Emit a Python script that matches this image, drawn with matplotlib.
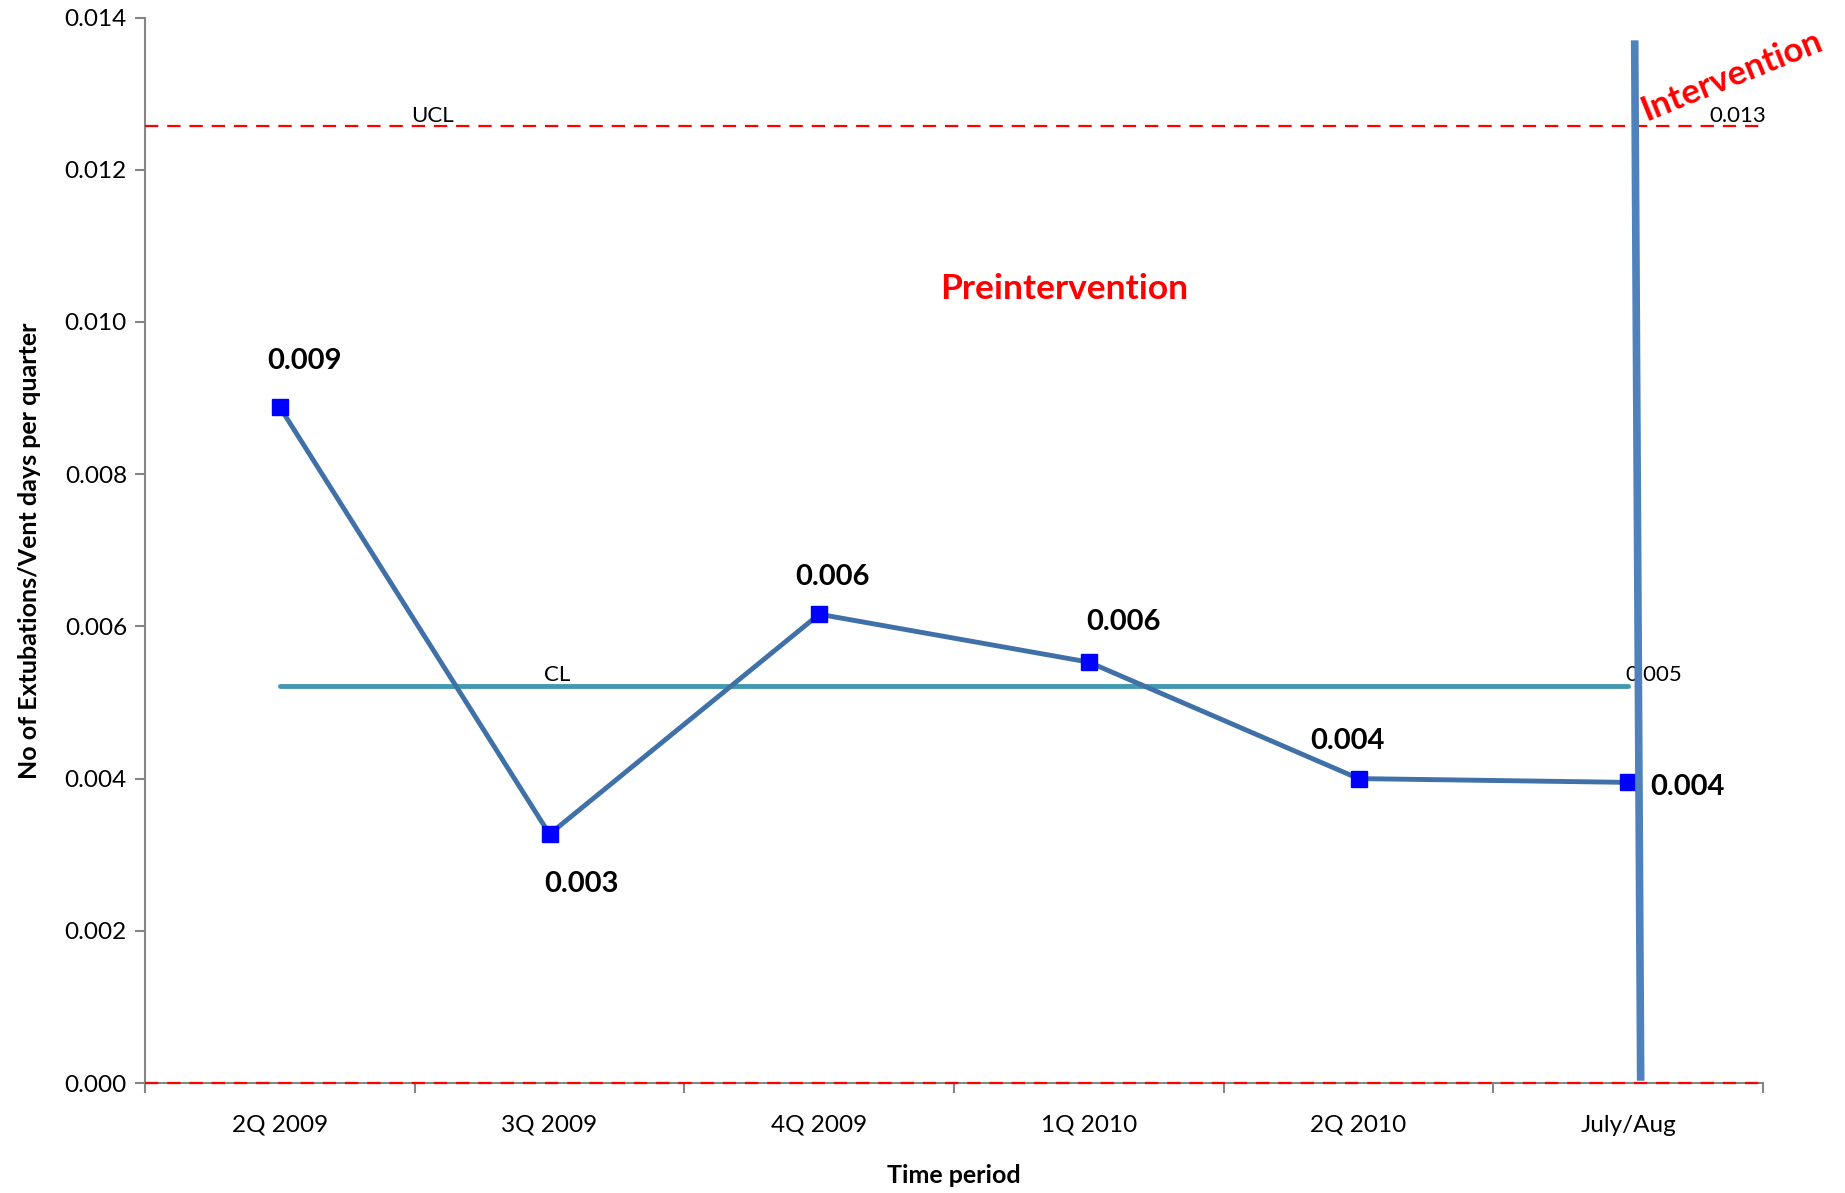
import matplotlib
matplotlib.use("Agg")
import matplotlib.pyplot as plt

plt.rcParams['font.family'] = ['Lato', 'DejaVu Sans']

categories = ["2Q 2009", "3Q 2009", "4Q 2009", "1Q 2010", "2Q 2010", "July/Aug"]
values = [0.00888, 0.00327, 0.00616, 0.00553, 0.00400, 0.00395]
value_labels = ["0.009", "0.003", "0.006", "0.006", "0.004", "0.004"]
ucl = 0.01257
cl = 0.00522
lcl = 0.0
yticks = [0.000, 0.002, 0.004, 0.006, 0.008, 0.010, 0.012, 0.014]
intervention_x = [5.024, 5.046]
intervention_y = [0.01365, 0.00008]

fig = plt.figure(figsize=(18.45, 11.93), dpi=100)
ax = fig.add_axes([0.0786, 0.0922, 0.8770, 0.8931])

x = list(range(len(categories)))
axis_gray = "#868686"

# control limits
ax.axhline(ucl, color="#FF0000", lw=1.6, ls=(0, (6, 4)), zorder=3)
ax.plot([x[0], x[-1]], [cl, cl], color="#4198B2", lw=3.5, solid_capstyle="round", zorder=3)

# data series
ax.plot(x, values, color="#4070A8", lw=3.5, marker="s", markersize=12,
        markerfacecolor="#0000FF", markeredgecolor="#0000FF", zorder=5)

# intervention line
ax.plot(intervention_x, intervention_y, color="#4F81BD", lw=5.5, zorder=6, clip_on=False)

# spines and LCL
ax.spines["top"].set_visible(False)
ax.spines["right"].set_visible(False)
ax.spines["left"].set_color(axis_gray)
ax.spines["bottom"].set_color(axis_gray)
ax.spines["left"].set_linewidth(1.5)
ax.spines["bottom"].set_linewidth(1.5)
ax.axhline(lcl, color="#FF0000", lw=1.6, ls=(0, (6, 4)), zorder=4, clip_on=False)

ax.set_xlim(-0.5, len(categories) - 0.5)
ax.set_ylim(0, 0.014)
ax.set_yticks(yticks)
ax.set_yticklabels([f"{v:.3f}" for v in yticks], fontsize=17.5)
ax.set_xticks(x)
ax.set_xticklabels(categories, fontsize=17.5)
ax.tick_params(axis="x", which="major", length=0, pad=23)
ax.set_xticks([i - 0.5 for i in range(len(categories) + 1)], minor=True)
ax.tick_params(axis="x", which="minor", length=7, width=1.5, color=axis_gray, direction="out")
ax.tick_params(axis="y", length=7, width=1.5, color=axis_gray, direction="out", pad=6)

ax.set_xlabel("Time period", fontsize=18, fontweight="bold", labelpad=20)
ax.set_ylabel("No of Extubations/Vent days per quarter", fontsize=18, fontweight="bold", labelpad=17)

# data labels
label_offsets = [(0.09, 0.00061), (0.12, -0.00066), (0.05, 0.00049), (0.13, 0.00053), (-0.04, 0.00049), (0.22, -0.00006)]
for xi, v, lab, (dx, dy) in zip(x, values, value_labels, label_offsets):
    ax.text(xi + dx, v + dy, lab, fontsize=21, fontweight="bold", ha="center", va="center", zorder=7)

# limit labels
ax.text(0.565, ucl + 0.00001, "UCL", fontsize=16, ha="center", va="bottom")
ax.text(1.03, cl + 0.00001, "CL", fontsize=16, ha="center", va="bottom")
ax.text(5.405, ucl + 0.00001, "0.013", fontsize=16, ha="center", va="bottom")
ax.text(5.095, cl + 0.00001, "0.005", fontsize=16, ha="center", va="bottom")

ax.text(2.91, 0.01043, "Preintervention", color="#FF0000", fontsize=25.5, fontweight="bold",
        ha="center", va="center")
ax.text(5.385, 0.01323, "Intervention", color="#FF0000", fontsize=25, fontweight="bold",
        ha="center", va="center", rotation=22, zorder=8)

fig.savefig("out.png", dpi=100)
